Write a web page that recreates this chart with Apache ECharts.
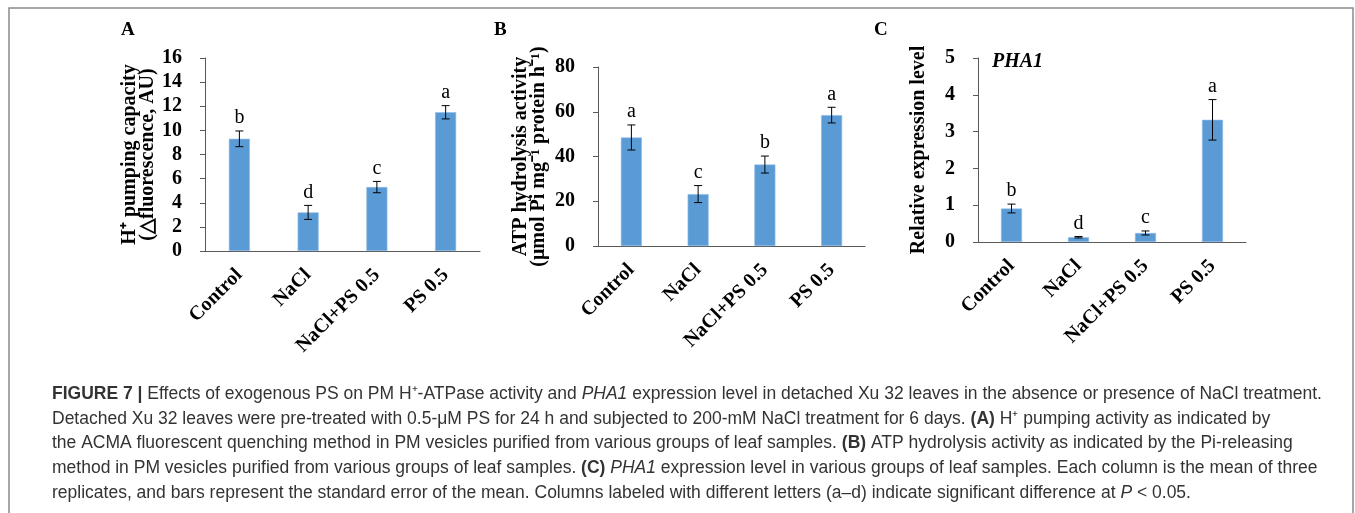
<!DOCTYPE html>
<html>
<head>
<meta charset="utf-8">
<script src="https://cdn.jsdelivr.net/npm/echarts@6/dist/echarts.min.js"></script>
<style>
html, body { margin: 0; padding: 0; background: #fff; }
#fig { width: 1355px; height: 513px; }
</style>
</head>
<body>
<div id="fig"></div>
<script>
// treatments
var categories = ['Control', 'NaCl', 'NaCl+PS 0.5', 'PS 0.5'];

// A - H+ pumping capacity
var pumpMean = [9.3, 3.2, 5.3, 11.5];
var pumpErr = [0.65, 0.58, 0.47, 0.55];
var pumpLetters = ['b', 'd', 'c', 'a'];

// B - ATP hydrolysis activity
var atpMean = [48.5, 23.2, 36.4, 58.5];
var atpErr = [5.6, 3.8, 3.8, 3.5];
var atpLetters = ['a', 'c', 'b', 'a'];

// C - PHA1 relative expression
var phaMean = [0.91, 0.13, 0.245, 3.32];
var phaErr = [0.12, 0.02, 0.055, 0.55];
var phaLetters = ['b', 'd', 'c', 'a'];

// y ticks
var pumpTicks = [0, 16, 2];
var atpTicks = [0, 80, 20];
var phaTicks = [0, 5, 1];

var serif = '"Liberation Serif", "Times New Roman", serif';
var sans = '"Liberation Sans", Arial, sans-serif';
var barColor = '#5b9bd5';
var axisColor = '#595959';

var myChart = echarts.init(document.getElementById('fig'));

function yAxisFor(idx, ticks, name, gap) {
    return {
        gridIndex: idx,
        type: 'value',
        min: ticks[0],
        max: ticks[1],
        interval: ticks[2],
        name: name,
        nameLocation: 'middle',
        nameRotate: 90,
        nameGap: gap,
        nameTextStyle: {
            fontFamily: serif, fontWeight: 'bold', fontSize: 20,
            color: '#000', lineHeight: 18, align: 'center'
        },
        axisLine: { show: true, lineStyle: { color: axisColor, width: 1 } },
        axisTick: { show: true, length: 5, lineStyle: { color: axisColor } },
        splitLine: { show: false },
        axisLabel: {
            margin: 23, color: '#000',
            fontFamily: serif, fontWeight: 'bold', fontSize: 20
        }
    };
}

function xAxisFor(idx) {
    return {
        gridIndex: idx,
        type: 'category',
        data: categories,
        axisLine: { show: true, lineStyle: { color: axisColor, width: 1 } },
        axisTick: { show: false },
        axisLabel: {
            rotate: 45, margin: 21, interval: 0, color: '#000',
            fontFamily: serif, fontWeight: 'bold', fontSize: 20
        }
    };
}

function barSeries(idx, means) {
    return {
        type: 'bar',
        xAxisIndex: idx,
        yAxisIndex: idx,
        data: means,
        barWidth: 21,
        itemStyle: { color: barColor, borderColor: '#8fbbe6', borderWidth: 0.6 },
        animation: false,
        z: 2
    };
}

function errSeries(idx, means, errs, letters) {
    var data = means.map(function (m, i) { return [i, m, errs[i]]; });
    return {
        type: 'custom',
        xAxisIndex: idx,
        yAxisIndex: idx,
        data: data,
        animation: false,
        z: 5,
        renderItem: function (params, api) {
            var x = api.value(0), m = api.value(1), e = api.value(2);
            var hi = api.coord([x, m + e]);
            var lo = api.coord([x, m - e]);
            var cw = 4;
            var st = { stroke: '#000', lineWidth: 1 };
            return {
                type: 'group',
                children: [
                    { type: 'line', shape: { x1: hi[0], y1: hi[1], x2: lo[0], y2: lo[1] }, style: st },
                    { type: 'line', shape: { x1: hi[0] - cw, y1: hi[1], x2: hi[0] + cw, y2: hi[1] }, style: st },
                    { type: 'line', shape: { x1: lo[0] - cw, y1: lo[1], x2: lo[0] + cw, y2: lo[1] }, style: st },
                    {
                        type: 'text', x: hi[0], y: hi[1] - 3,
                        style: {
                            text: letters[params.dataIndex],
                            align: 'center', verticalAlign: 'bottom',
                            fontFamily: serif, fontSize: 20, fill: '#000'
                        }
                    }
                ]
            };
        }
    };
}

var capSize = 17.5;
var capColor = '#333';
var capRich = {
    b: { fontFamily: sans, fontSize: capSize, fontWeight: 'bold', fill: capColor },
    i: { fontFamily: sans, fontSize: capSize, fontStyle: 'italic', fill: capColor }
};
var captionLines = [
    '{b|FIGURE 7 |} Effects of exogenous PS on PM H\u207A-ATPase activity and {i|PHA1} expression level in detached Xu 32 leaves in the absence or presence of NaCl treatment.',
    'Detached Xu 32 leaves were pre-treated with 0.5-\u03BCM PS for 24 h and subjected to 200-mM NaCl treatment for 6 days. {b|(A)} H\u207A pumping activity as indicated by',
    'the ACMA fluorescent quenching method in PM vesicles purified from various groups of leaf samples. {b|(B)} ATP hydrolysis activity as indicated by the Pi-releasing',
    'method in PM vesicles purified from various groups of leaf samples. {b|(C)} {i|PHA1} expression level in various groups of leaf samples. Each column is the mean of three',
    'replicates, and bars represent the standard error of the mean. Columns labeled with different letters (a\u2013d) indicate significant difference at {i|P} < 0.05.'
];

var graphics = [
    {
        type: 'rect', silent: true,
        shape: { x: 9, y: 8, width: 1344, height: 540 },
        style: { fill: 'none', stroke: '#8a8a8a', lineWidth: 1.5 }
    },
    { type: 'text', x: 121, y: 21, style: { text: 'A', fontFamily: serif, fontWeight: 'bold', fontSize: 19, fill: '#000' } },
    { type: 'text', x: 494, y: 21, style: { text: 'B', fontFamily: serif, fontWeight: 'bold', fontSize: 19, fill: '#000' } },
    { type: 'text', x: 874, y: 21, style: { text: 'C', fontFamily: serif, fontWeight: 'bold', fontSize: 19, fill: '#000' } },
    { type: 'text', x: 992, y: 52, style: { text: 'PHA1', fontFamily: serif, fontWeight: 'bold', fontStyle: 'italic', fontSize: 20, fill: '#000' } }
];
captionLines.forEach(function (t, i) {
    graphics.push({
        type: 'text', x: 52, y: 394 + i * 24.8,
        style: {
            text: t, rich: capRich, verticalAlign: 'middle',
            fontFamily: sans, fontSize: capSize, fill: capColor
        }
    });
});

myChart.setOption({
    backgroundColor: '#fff',
    animation: false,
    grid: [
        { left: 205, top: 58, width: 275, height: 193 },
        { left: 598, top: 67, width: 267, height: 179 },
        { left: 978, top: 58, width: 268, height: 184 }
    ],
    xAxis: [xAxisFor(0), xAxisFor(1), xAxisFor(2)],
    yAxis: [
        yAxisFor(0, pumpTicks, 'H\u207A pumping capacity\n(\u25B3fluorescence, AU)', 48),
        yAxisFor(1, atpTicks, 'ATP hydrolysis activity\n(\u03BCmol Pi mg\u207B\u00B9 protein h\u207B\u00B9)', 50),
        yAxisFor(2, phaTicks, 'Relative expression level', 50)
    ],
    series: [
        barSeries(0, pumpMean), errSeries(0, pumpMean, pumpErr, pumpLetters),
        barSeries(1, atpMean), errSeries(1, atpMean, atpErr, atpLetters),
        barSeries(2, phaMean), errSeries(2, phaMean, phaErr, phaLetters)
    ],
    graphic: graphics
});
</script>
</body>
</html>
